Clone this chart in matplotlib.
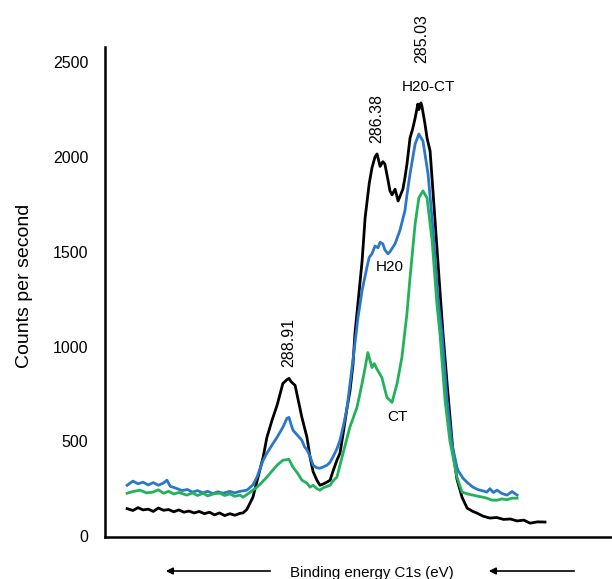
import matplotlib
matplotlib.use("Agg")
import matplotlib.pyplot as plt

plt.rcParams['font.family'] = ['Liberation Sans', 'DejaVu Sans']

# H20-CT (black)
be_h20ct = [293.67, 293.5, 293.35, 293.2, 293.05, 292.9, 292.75, 292.6, 292.45, 292.3,
            292.15, 292.0, 291.85, 291.7, 291.55, 291.4, 291.25, 291.1, 290.95, 290.8,
            290.65, 290.5, 290.35, 290.26, 290.15, 289.97, 289.85, 289.67, 289.56, 289.41,
            289.26, 289.09, 288.97, 288.91, 288.85, 288.73, 288.53, 288.38, 288.29, 288.20,
            288.09, 288.00, 287.90, 287.79, 287.70, 287.62, 287.50, 287.41, 287.30, 287.20,
            287.12, 287.03, 286.97, 286.88, 286.76, 286.67, 286.55, 286.47, 286.38, 286.32,
            286.23, 286.15, 286.09, 286.00, 285.94, 285.88, 285.79, 285.70, 285.65, 285.56,
            285.50, 285.44, 285.35, 285.27, 285.20, 285.12, 285.09, 285.03, 285.00, 284.91,
            284.85, 284.76, 284.62, 284.47, 284.38, 284.26, 284.09, 283.97, 283.82, 283.67,
            283.50, 283.38, 283.20, 283.00, 282.80, 282.60, 282.40, 282.20, 282.00, 281.82,
            281.60, 281.38]
cps_h20ct = [145, 135, 150, 138, 142, 130, 148, 136, 140, 128,
             138, 126, 132, 122, 130, 118, 126, 112, 122, 108,
             118, 110, 120, 122, 140, 205, 290, 416, 520, 610,
             690, 805, 825, 832, 815, 795, 626, 520, 416, 340,
             295, 268, 275, 285, 295, 340, 400, 437, 560, 680,
             760, 900, 1068, 1230, 1450, 1680, 1860, 1942, 2000, 2016,
             1950, 1975, 1963, 1880, 1821, 1800, 1830, 1768, 1790, 1830,
             1890, 1963, 2100, 2150, 2205, 2279, 2250, 2285, 2268, 2174,
             2100, 2032, 1679, 1295, 1068, 805, 453, 300, 205, 147,
             130, 121, 105, 95, 98, 88, 90, 80, 84, 68,
             75, 74]

# H20 (blue)
be_h20 = [293.67, 293.5, 293.35, 293.2, 293.05, 292.9, 292.75, 292.6, 292.50, 292.40,
          292.32, 292.2, 292.05, 291.9, 291.75, 291.6, 291.44, 291.3, 291.15, 291.0,
          290.85, 290.65, 290.5, 290.35, 290.15, 289.97, 289.85, 289.67, 289.56, 289.41,
          289.26, 289.09, 288.97, 288.91, 288.85, 288.79, 288.65, 288.53, 288.45, 288.38,
          288.29, 288.20, 288.09, 288.00, 287.90, 287.79, 287.70, 287.62, 287.50, 287.41,
          287.30, 287.20, 287.03, 286.88, 286.76, 286.62, 286.55, 286.47, 286.38, 286.29,
          286.23, 286.15, 286.09, 286.00, 285.94, 285.79, 285.65, 285.50, 285.44, 285.35,
          285.20, 285.09, 284.97, 284.82, 284.67, 284.53, 284.41, 284.26, 284.12, 283.97,
          283.94, 283.79, 283.65, 283.50, 283.35, 283.20, 283.09, 283.00, 282.90, 282.79,
          282.65, 282.50, 282.35, 282.20]
cps_h20 = [268, 290, 276, 284, 270, 282, 268, 280, 295, 262,
           258, 250, 240, 246, 232, 240, 228, 236, 224, 234,
           226, 236, 228, 236, 242, 270, 311, 400, 437, 480,
           521, 574, 621, 626, 590, 558, 530, 505, 470, 455,
           420, 374, 360, 358, 365, 374, 390, 416, 460, 505,
           590, 679, 926, 1153, 1295, 1416, 1470, 1489, 1530, 1521,
           1550, 1542, 1510, 1489, 1500, 1542, 1611, 1716, 1800, 1911,
           2068, 2121, 2084, 1911, 1611, 1258, 1068, 716, 489, 363,
           347, 305, 280, 258, 245, 238, 232, 250, 230, 242,
           225, 216, 235, 216]

# CT (green)
be_ct = [293.67, 293.5, 293.29, 293.1, 292.91, 292.75, 292.6, 292.45, 292.3, 292.15,
         291.91, 291.75, 291.6, 291.44, 291.3, 291.1, 290.94, 290.8, 290.65, 290.5,
         290.35, 290.26, 290.1, 289.85, 289.67, 289.56, 289.40, 289.26, 289.09, 288.91,
         288.79, 288.65, 288.53, 288.38, 288.29, 288.20, 288.09, 288.00, 287.90, 287.79,
         287.70, 287.62, 287.50, 287.32, 287.12, 286.91, 286.76, 286.67, 286.59, 286.47,
         286.40, 286.32, 286.18, 286.03, 285.88, 285.73, 285.59, 285.44, 285.35, 285.20,
         285.09, 284.97, 284.85, 284.70, 284.56, 284.47, 284.32, 284.18, 283.97, 283.94,
         283.82, 283.65, 283.50, 283.35, 283.20, 283.09, 282.95, 282.79, 282.65, 282.50,
         282.35, 282.20]
cps_ct = [226, 235, 242, 228, 232, 244, 226, 236, 222, 230,
          216, 228, 214, 226, 212, 224, 226, 214, 222, 210,
          216, 205, 225, 258, 290, 311, 345, 374, 400, 405,
          363, 330, 295, 279, 258, 268, 250, 242, 255, 262,
          268, 290, 311, 437, 574, 679, 805, 889, 968, 889,
          910, 880, 837, 732, 705, 805, 942, 1174, 1363, 1647,
          1784, 1821, 1784, 1558, 1226, 1068, 716, 505, 311, 295,
          232, 222, 216, 210, 205, 200, 190, 189, 196, 192,
          200, 200]

yticks = [0, 500, 1000, 1500, 2000, 2500]

fig = plt.figure(figsize=(6.12, 5.79), dpi=100)
ax = fig.add_axes([0.1716, 0.0725, 0.8284, 0.8463])

ax.plot(be_h20ct, cps_h20ct, color='black', lw=2)
ax.plot(be_h20, cps_h20, color='#2b77c9', lw=2)
ax.plot(be_ct, cps_ct, color='#22b25a', lw=2)

ax.set_xlim(294.32, 279.41)
ax.set_ylim(-5, 2580)
ax.set_xticks([])
ax.set_yticks(yticks)
ax.tick_params(axis='y', length=0, pad=12, labelsize=11.5)
for s in ['top', 'right']:
    ax.spines[s].set_visible(False)
for s in ['left', 'bottom']:
    ax.spines[s].set_linewidth(1.8)

ax.set_ylabel('Counts per second', fontsize=14)
ax.yaxis.set_label_coords(-0.143, 0.512)

# peak positions
ax.text(288.91, 1023, '288.91', rotation=90, ha='center', va='center', fontsize=11.5)
ax.text(286.32, 2205, '286.38', rotation=90, ha='center', va='center', fontsize=11.5)
ax.text(285.00, 2627, '285.03', rotation=90, ha='center', va='center', fontsize=11.5, clip_on=False)

# series names
ax.text(284.82, 2368, 'H20-CT', ha='center', va='center', fontsize=11)
ax.text(285.94, 1419, 'H20', ha='center', va='center', fontsize=11)
ax.text(285.73, 628, 'CT', ha='center', va='center', fontsize=11)

# x label with arrows
fig.text(372 / 612, 1 - 573 / 579, 'Binding energy C1s (eV)', ha='center', va='center', fontsize=10.8)
arrow = dict(arrowstyle='-|>', color='black', lw=1.2, mutation_scale=10)
fig.add_artist(matplotlib.patches.FancyArrowPatch((273 / 612, 1 - 571 / 579), (163 / 612, 1 - 571 / 579),
                                                  transform=fig.transFigure, **arrow))
fig.add_artist(matplotlib.patches.FancyArrowPatch((577 / 612, 1 - 571 / 579), (486 / 612, 1 - 571 / 579),
                                                  transform=fig.transFigure, **arrow))

fig.savefig('out.png', dpi=100)
